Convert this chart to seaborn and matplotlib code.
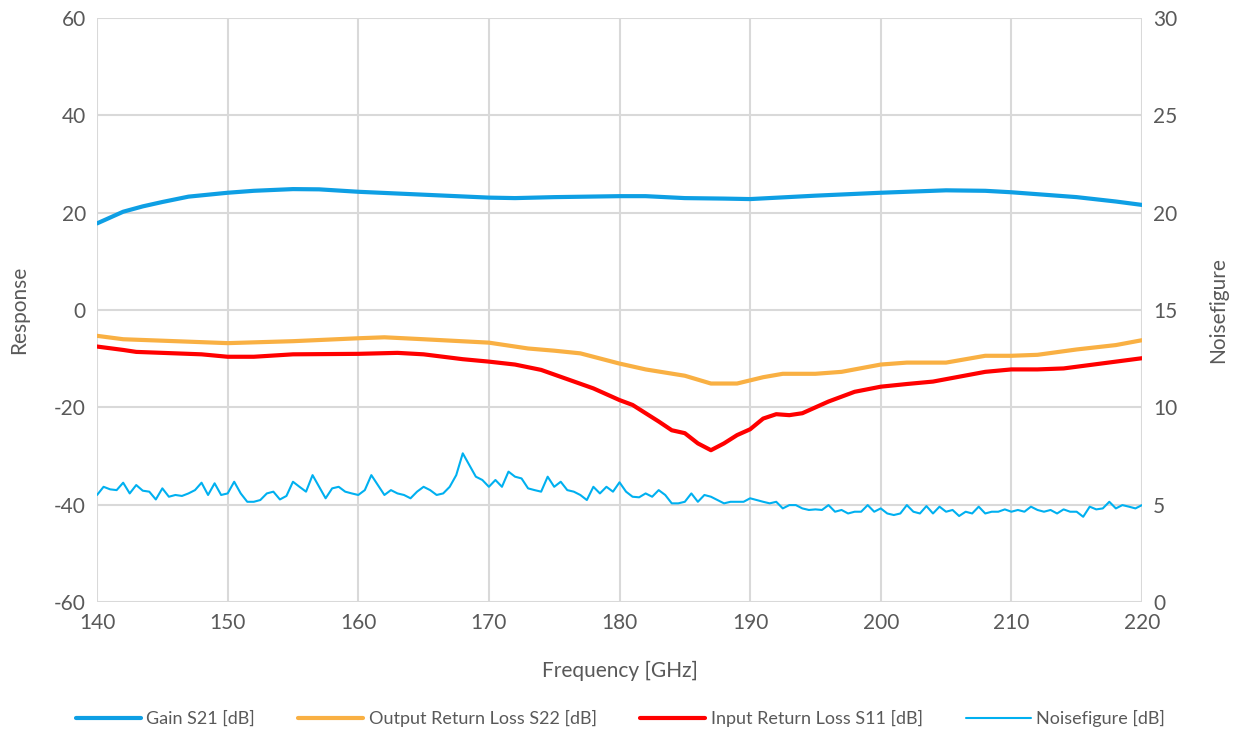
import numpy as np
import pandas as pd
import seaborn as sns
import matplotlib
matplotlib.use("Agg")
import matplotlib.pyplot as plt
from matplotlib.lines import Line2D

# Gain S21 [dB]
gain_f = [140, 141, 142, 143.5, 145, 147, 150, 152, 155, 157, 160, 165, 170, 172,
          175, 180, 182, 185, 188, 190, 195, 200, 205, 208, 210, 215, 218, 220]
gain_db = [17.8, 19.0, 20.2, 21.3, 22.2, 23.3, 24.1, 24.5, 24.85, 24.8, 24.3, 23.7, 23.1, 23.0,
           23.2, 23.4, 23.4, 23.0, 22.9, 22.8, 23.5, 24.1, 24.6, 24.5, 24.2, 23.2, 22.3, 21.6]

# Output return loss S22 [dB]
s22_f = [140, 142, 145, 150, 155, 160, 162, 165, 170, 173, 175, 177, 180, 182, 185, 187,
         189, 191, 192.5, 195, 197, 200, 202, 205, 208, 210, 212, 215, 218, 220]
s22_db = [-5.3, -6.0, -6.3, -6.8, -6.4, -5.8, -5.6, -6.0, -6.7, -7.9, -8.35, -8.9, -11.0, -12.2,
          -13.5, -15.1, -15.1, -13.8, -13.1, -13.1, -12.7, -11.2, -10.8, -10.8, -9.4, -9.4, -9.2,
          -8.1, -7.2, -6.2]

# Input return loss S11 [dB]
s11_f = [140, 142, 143, 145, 148, 150, 152, 155, 160, 163, 165, 168, 170, 172, 174, 176, 178,
         180, 181, 182, 183, 184, 185, 186, 187, 188, 189, 190, 191, 192, 193, 194, 195, 196,
         197, 198, 200, 202, 204, 206, 208, 210, 212, 214, 216, 218, 220]
s11_db = [-7.5, -8.2, -8.6, -8.8, -9.1, -9.6, -9.6, -9.1, -9.0, -8.8, -9.1, -10.1, -10.6, -11.2,
          -12.3, -14.2, -16.1, -18.5, -19.5, -21.2, -22.9, -24.7, -25.3, -27.4, -28.8, -27.4,
          -25.7, -24.5, -22.3, -21.4, -21.6, -21.2, -20.0, -18.8, -17.8, -16.8, -15.75, -15.2,
          -14.7, -13.7, -12.7, -12.2, -12.2, -12.0, -11.3, -10.6, -9.9]

# Noise figure [dB], 0.5 GHz steps from 140 to 220 GHz
nf_f = [140 + 0.5 * i for i in range(161)]
nf_db = [5.5, 5.92, 5.79, 5.75, 6.13, 5.58, 6.01, 5.72, 5.67, 5.27,
         5.84, 5.41, 5.5, 5.45, 5.58, 5.75, 6.13, 5.5, 6.1, 5.5,
         5.58, 6.18, 5.58, 5.15, 5.15, 5.24, 5.58, 5.67, 5.27, 5.45,
         6.18, 5.92, 5.67, 6.52, 5.92, 5.33, 5.84, 5.92, 5.67, 5.58,
         5.5, 5.75, 6.52, 6.01, 5.5, 5.75, 5.58, 5.5, 5.33, 5.67,
         5.92, 5.75, 5.5, 5.58, 5.92, 6.52, 7.64, 7.04, 6.44, 6.27,
         5.92, 6.27, 5.92, 6.7, 6.44, 6.35, 5.84, 5.75, 5.67, 6.44,
         5.92, 6.18, 5.75, 5.67, 5.5, 5.24, 5.92, 5.58, 5.92, 5.67,
         6.15, 5.67, 5.41, 5.38, 5.58, 5.41, 5.75, 5.5, 5.07, 5.07,
         5.15, 5.58, 5.15, 5.5, 5.41, 5.24, 5.07, 5.15, 5.15, 5.15,
         5.33, 5.24, 5.15, 5.07, 5.15, 4.81, 4.98, 4.98, 4.81, 4.73,
         4.76, 4.73, 4.98, 4.64, 4.73, 4.55, 4.64, 4.64, 4.98, 4.64,
         4.81, 4.55, 4.47, 4.55, 4.98, 4.64, 4.55, 4.93, 4.55, 4.9,
         4.64, 4.73, 4.42, 4.64, 4.55, 4.9, 4.55, 4.64, 4.64, 4.76,
         4.64, 4.73, 4.64, 4.9, 4.73, 4.64, 4.73, 4.55, 4.76, 4.64,
         4.64, 4.38, 4.9, 4.76, 4.81, 5.15, 4.81, 4.98, 4.9, 4.81,
         4.98]

c_gain = "#0E9FE4"
c_s22 = "#F9B043"
c_s11 = "#FF0000"
c_nf = "#00B0F0"
c_text = "#595959"
c_grid = "#D9D9D9"

sns.set_theme(style="white")
plt.rcParams["font.family"] = ["Lato", "DejaVu Sans"]
plt.rcParams["axes.unicode_minus"] = False

fig = plt.figure(figsize=(12.41, 7.36), dpi=100)
ax = fig.add_axes([0.0782, 0.182, 0.842, 0.7935])

df_gain = pd.DataFrame({"f": gain_f, "v": gain_db})
df_s22 = pd.DataFrame({"f": s22_f, "v": s22_db})
df_s11 = pd.DataFrame({"f": s11_f, "v": s11_db})
df_nf = pd.DataFrame({"f": nf_f, "v": nf_db})

sns.lineplot(data=df_gain, x="f", y="v", ax=ax, color=c_gain, lw=3.0, zorder=3)
sns.lineplot(data=df_s22, x="f", y="v", ax=ax, color=c_s22, lw=3.0, zorder=3)
sns.lineplot(data=df_s11, x="f", y="v", ax=ax, color=c_s11, lw=3.0, zorder=3)

ax.set_xlim(140, 220)
ax.set_ylim(-60, 60)
ax.set_xticks(np.arange(140, 221, 10))
ax.set_yticks(np.arange(-60, 61, 20))
ax.grid(True, color=c_grid, lw=1.5)
ax.set_axisbelow(True)
for s in ax.spines.values():
    s.set_visible(False)
ax.tick_params(axis="both", length=0, labelsize=15, colors=c_text, pad=8)
ax.set_xlabel("Frequency [GHz]", fontsize=15, color=c_text, labelpad=20)
ax.set_ylabel("Response", fontsize=15, color=c_text, labelpad=18)

ax2 = ax.twinx()
sns.lineplot(data=df_nf, x="f", y="v", ax=ax2, color=c_nf, lw=1.5, zorder=3)
ax2.set_ylim(0, 30)
ax2.set_yticks(np.arange(0, 31, 5))
for s in ax2.spines.values():
    s.set_visible(False)
ax2.tick_params(axis="y", length=0, labelsize=15, colors=c_text, pad=8)
ax2.set_ylabel("Noisefigure", fontsize=15, color=c_text, labelpad=22)
ax2.set_xlim(140, 220)

handles = [
    Line2D([], [], color=c_gain, lw=3.0),
    Line2D([], [], color=c_s22, lw=3.0),
    Line2D([], [], color=c_s11, lw=3.0),
    Line2D([], [], color=c_nf, lw=1.5),
]
labels = ["Gain S21 [dB]", "Output Return Loss S22 [dB]", "Input Return Loss S11 [dB]",
          "Noisefigure [dB]"]
leg = fig.legend(handles, labels, loc="center", bbox_to_anchor=(0.5, 0.024), ncol=4,
                 frameon=False, fontsize=13, handlelength=3.6, handletextpad=0.3,
                 columnspacing=2.4)
for t in leg.get_texts():
    t.set_color(c_text)

fig.savefig("out.png", dpi=100)
